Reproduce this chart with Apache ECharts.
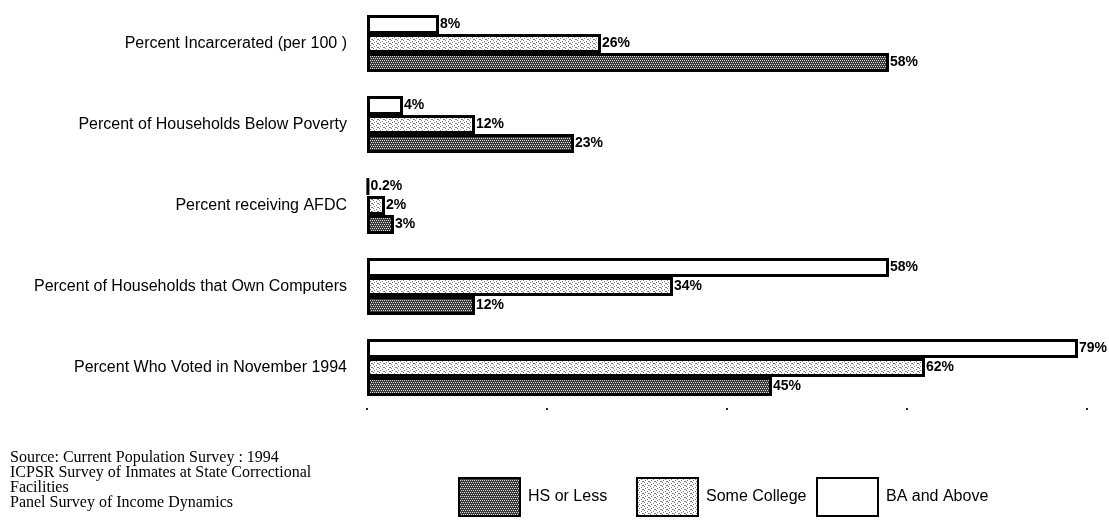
<!DOCTYPE html>
<html>
<head>
<meta charset="utf-8">
<script src="https://cdn.jsdelivr.net/npm/echarts@6/dist/echarts.min.js"></script>
<style>
  html, body { margin: 0; padding: 0; background: #fff; }
  #chart { width: 1109px; height: 527px; }
</style>
</head>
<body>
<div id="chart"></div>
<script>
// Indicators, top to bottom
const categories = [
  'Percent Incarcerated (per 100 )',
  'Percent of Households Below Poverty',
  'Percent receiving AFDC',
  'Percent of Households that Own Computers',
  'Percent Who Voted in November 1994'
];
// Values in percent for each education level
const baAndAbove   = [8, 4, 0.2, 58, 79];
const someCollege  = [26, 12, 2, 34, 62];
const hsOrLess     = [58, 23, 3, 12, 45];
const seriesNames  = ['HS or Less', 'Some College', 'BA and Above'];
const sourceLines  = [
  'Source: Current Population Survey : 1994',
  'ICPSR Survey of Inmates at State Correctional',
  'Facilities',
  'Panel Survey of Income Dynamics'
];

const SANS = 'Liberation Sans, Arial, sans-serif';

// Small tiled textures for the shaded bars
function makeTexture(bg, dot, cells) {
  const c = document.createElement('canvas');
  c.width = 6; c.height = 4;
  const g = c.getContext('2d');
  g.fillStyle = bg; g.fillRect(0, 0, c.width, c.height);
  g.fillStyle = dot;
  cells.forEach(([x, y]) => g.fillRect(x, y, 1, 1));
  return c;
}
const darkTex = makeTexture('#3a3a3a', '#d8d8d8', [[0,0],[2,0],[4,0],[1,2],[3,2],[5,2]]);
const lightTex = makeTexture('#ffffff', '#7a7a7a', [[1,0],[4,1],[2,2],[5,3],[0,3]]);

const chart = echarts.init(document.getElementById('chart'));

const labelStyle = {
  show: true,
  position: 'right',
  distance: 1,
  color: '#000',
  fontFamily: SANS,
  fontWeight: 'bold',
  fontSize: 14,
  formatter: p => p.value + '%'
};

function barSeries(name, data, fill) {
  return {
    name: name,
    type: 'bar',
    data: data,
    barWidth: 19,
    barGap: '0%',
    itemStyle: { color: fill, borderColor: '#000', borderWidth: 3 },
    label: labelStyle
  };
}

// One legend block per series so each sits at its own slot
const legendSlots = [458, 636, 816];
const legends = seriesNames.map((name, i) => ({
  data: [name],
  left: legendSlots[i],
  top: 477,
  padding: 0,
  itemWidth: 61,
  itemHeight: 38,
  icon: 'rect',
  selectedMode: false,
  textStyle: { color: '#000', fontFamily: SANS, fontSize: 16, padding: [0, 0, 0, 3] }
}));

chart.setOption({
  animation: false,
  backgroundColor: '#fff',
  grid: { left: 367, right: 22, top: 3, bottom: 119, containLabel: false },
  xAxis: {
    type: 'value',
    min: 0, max: 80, interval: 20,
    axisLine: { show: false },
    axisLabel: { show: false },
    splitLine: { show: false },
    axisTick: { show: true, length: 2, lineStyle: { color: '#222', width: 2 } }
  },
  yAxis: {
    type: 'category',
    data: categories,
    inverse: true,
    axisLine: { show: false },
    axisTick: { show: false },
    axisLabel: {
      margin: 20,
      color: '#000',
      fontFamily: SANS,
      fontSize: 16
    }
  },
  legend: legends,
  graphic: [{
    type: 'text',
    left: 10,
    top: 450,
    style: {
      text: sourceLines.join('\n'),
      font: '16px "Liberation Serif", "Times New Roman", serif',
      lineHeight: 15,
      fill: '#000'
    }
  }],
  series: [
    barSeries('BA and Above', baAndAbove, '#fff'),
    barSeries('Some College', someCollege, { image: lightTex, repeat: 'repeat' }),
    barSeries('HS or Less', hsOrLess, { image: darkTex, repeat: 'repeat' })
  ]
});
</script>
</body>
</html>
